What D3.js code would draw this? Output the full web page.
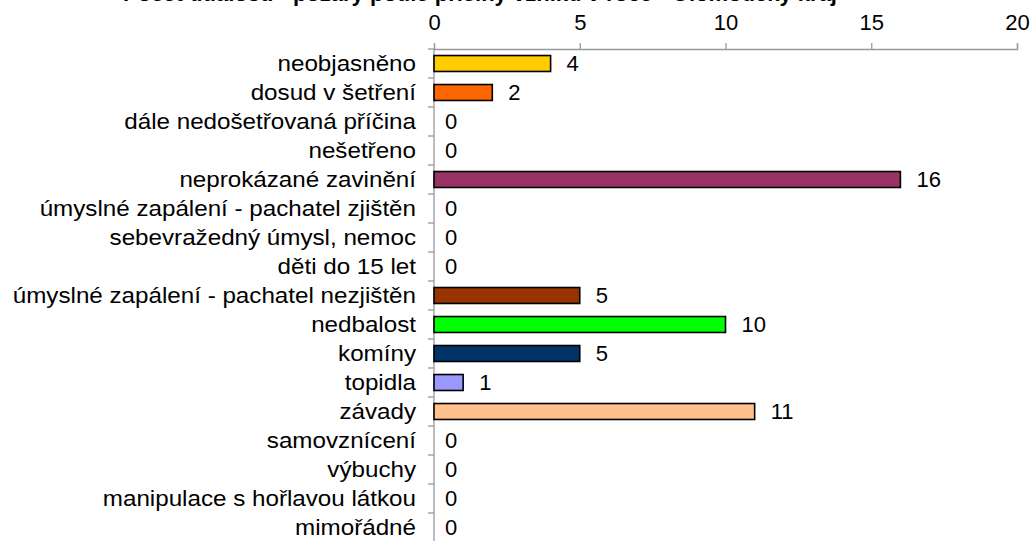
<!DOCTYPE html>
<html><head><meta charset="utf-8">
<script src="https://cdn.jsdelivr.net/npm/d3@7"></script>
<style>body{margin:0;background:#fff;overflow:hidden}svg{display:block}</style>
</head><body>
<svg id="c" width="1031" height="541"></svg>
<script>
const titleText = "Počet událostí - požáry podle příčiny vzniku v roce - Olomoucký kraj";
const categories = ["neobjasněno","dosud v šetření","dále nedošetřovaná příčina","nešetřeno","neprokázané zavinění","úmyslné zapálení - pachatel zjištěn","sebevražedný úmysl, nemoc","děti do 15 let","úmyslné zapálení - pachatel nezjištěn","nedbalost","komíny","topidla","závady","samovznícení","výbuchy","manipulace s hořlavou látkou","mimořádné"];
const values = [4,2,0,0,16,0,0,0,5,10,5,1,11,0,0,0,0];
const colors = ["#FFCC00","#FF6600","#999999","#999999","#993366","#999999","#999999","#999999","#993300","#00FF00","#003366","#9999FF","#FFC08C","#999999","#999999","#999999","#999999"];
const xTicks = [0,5,10,15,20];

const svg = d3.select("#c");
const font = "'Liberation Sans', Arial, sans-serif";
const FS = 22;
const SX = 1.1;
const x = d3.scaleLinear().domain([0,20]).range([434,1017]);
const y = d3.scaleBand().domain(categories).range([49,49+29*categories.length]).paddingInner(0.45).paddingOuter(0.225);

svg.append("text").attr("x",480).attr("y",0.5).attr("text-anchor","middle")
  .attr("font-family",font).attr("font-weight","bold").attr("font-size",FS).text(titleText);

const xa = svg.append("g").attr("transform","translate(0,49)")
  .call(d3.axisTop(x).tickValues(xTicks).tickSize(6).tickPadding(13).tickFormat(d3.format("d")));
xa.select(".domain").attr("stroke","#999").attr("stroke-width",1.3);
xa.selectAll(".tick line").attr("stroke","#999").attr("stroke-width",1.3);
xa.selectAll(".tick text").attr("font-family",font).attr("font-size",FS).attr("fill","#000");

const ya = svg.append("g").attr("transform","translate(434,0)")
  .call(d3.axisLeft(y).tickSize(0).tickPadding(14));
ya.select(".domain").remove();
ya.selectAll(".tick text").attr("font-family",font).attr("font-size",FS).attr("fill","#000")
  .attr("x",-18/SX).attr("transform",`scale(${SX},1)`);
svg.append("line").attr("x1",434).attr("x2",434).attr("y1",49).attr("y2",541).attr("stroke","#999").attr("stroke-width",1.3);
svg.selectAll(".bt").data(d3.range(categories.length+1)).enter().append("line")
  .attr("x1",428).attr("x2",434)
  .attr("y1",d=>49+y.step()*d).attr("y2",d=>49+y.step()*d)
  .attr("stroke","#999").attr("stroke-width",1.3);

const data = categories.map((c,i)=>({c,v:values[i],col:colors[i]}));
svg.selectAll(".bar").data(data.filter(d=>d.v>0)).enter().append("rect")
  .attr("x",x(0)).attr("y",d=>y(d.c)).attr("width",d=>x(d.v)-x(0)).attr("height",y.bandwidth())
  .attr("fill",d=>d.col).attr("stroke","#000").attr("stroke-width",1.6);
svg.selectAll(".lbl").data(data).enter().append("text")
  .attr("x",d=>x(d.v)+(d.v>0?16:11)).attr("y",d=>y(d.c)+y.bandwidth()/2).attr("dy","0.36em")
  .attr("font-family",font).attr("font-size",FS).text(d=>d.v);
</script>
</body></html>
